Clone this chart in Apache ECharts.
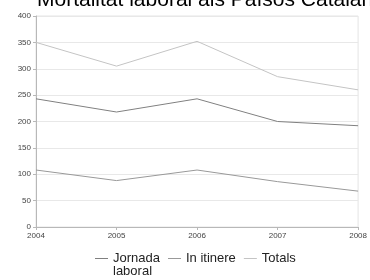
<!DOCTYPE html>
<html>
<head>
<meta charset="utf-8">
<script src="https://cdn.jsdelivr.net/npm/echarts@6/dist/echarts.min.js"></script>
<style>
  html, body { margin: 0; padding: 0; background: #fff; }
  #chart { width: 370px; height: 280px; }
</style>
</head>
<body>
<div id="chart"></div>
<script>
const years = ['2004', '2005', '2006', '2007', '2008'];
const jornadaLaboral = [243, 218, 243, 200, 192];
const inItinere = [108, 88, 108, 86, 68];
const totals = [350, 305, 352, 285, 260];

const chart = echarts.init(document.getElementById('chart'));
chart.setOption({
  animation: false,
  title: {
    text: 'Mortalitat laboral als Països Catalans',
    left: 32,
    top: -15,
    textStyle: { fontFamily: 'Liberation Sans', fontSize: 21, fontWeight: 'normal', color: '#000' }
  },
  grid: {
    left: 36, right: 9, top: 16, bottom: 53,
    show: true, borderColor: '#e4e4e4', borderWidth: 1
  },
  legend: {
    top: 247,
    left: 90,
    itemWidth: 13,
    itemHeight: 1,
    itemGap: 8,
    icon: 'rect',
    formatter: function (name) {
      return name === 'Jornada laboral' ? 'Jornada' : name
    },
    textStyle: { fontFamily: 'Liberation Sans', fontSize: 13, color: '#222' },
    data: ['Jornada laboral', 'In itinere', 'Totals']
  },
  // second line of the wrapped legend label
  graphic: [{
    type: 'text',
    left: 113,
    top: 265,
    style: { text: 'laboral', font: '13px "Liberation Sans"', fill: '#222' }
  }],
  xAxis: {
    type: 'category',
    boundaryGap: false,
    data: years,
    axisLine: { lineStyle: { color: '#b8b8b8' } },
    axisTick: { length: 3, lineStyle: { color: '#b8b8b8' } },
    axisLabel: { fontFamily: 'Liberation Sans', fontSize: 8, color: '#444', margin: 5 },
    splitLine: { show: false }
  },
  yAxis: {
    type: 'value',
    min: 0, max: 400, interval: 50,
    axisLine: { show: true, lineStyle: { color: '#b8b8b8' } },
    axisTick: { show: true, length: 3, lineStyle: { color: '#b8b8b8' } },
    axisLabel: { fontFamily: 'Liberation Sans', fontSize: 8, color: '#444', margin: 5 },
    splitLine: { lineStyle: { color: '#e8e8e8' } }
  },
  series: [
    { name: 'Jornada laboral', type: 'line', data: jornadaLaboral, showSymbol: false,
      lineStyle: { width: 1, color: '#808080' }, itemStyle: { color: '#808080' } },
    { name: 'In itinere', type: 'line', data: inItinere, showSymbol: false,
      lineStyle: { width: 1, color: '#999999' }, itemStyle: { color: '#999999' } },
    { name: 'Totals', type: 'line', data: totals, showSymbol: false,
      lineStyle: { width: 1, color: '#c4c4c4' }, itemStyle: { color: '#c4c4c4' } }
  ]
});
</script>
</body>
</html>
